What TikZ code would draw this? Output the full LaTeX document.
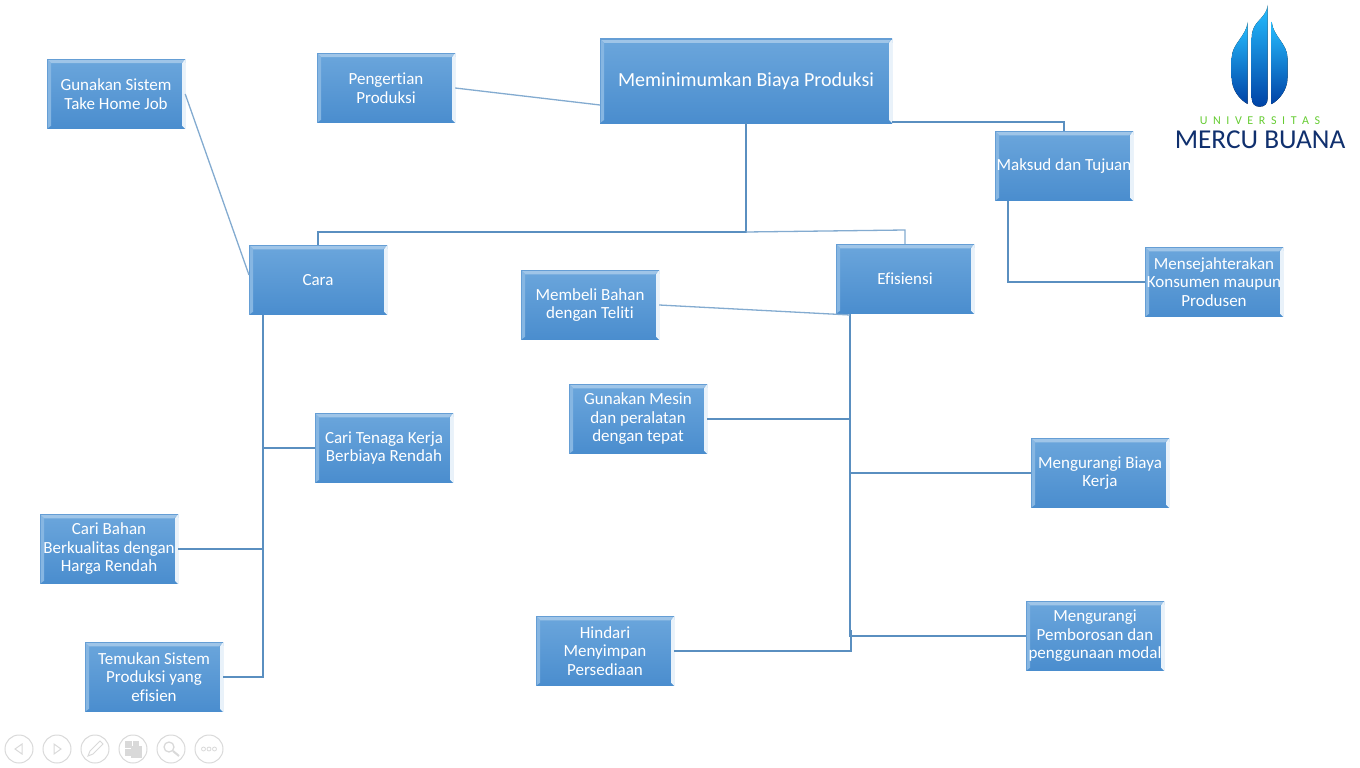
\documentclass[tikz,border=0pt]{standalone}
\usepackage{fontspec}
\setmainfont[Ligatures=NoCommon]{Carlito}
\usepackage{xcolor}
\usetikzlibrary{positioning,calc}
\definecolor{boxtop}{HTML}{6BA6DC}
\definecolor{boxbot}{HTML}{4A8DCE}
\definecolor{linkblue}{HTML}{5A8FC0}
\definecolor{navgrey}{HTML}{D9D9D9}
\definecolor{mbnavy}{HTML}{10306E}
\tikzset{
  bluebox/.style={rectangle, inner sep=0pt, minimum width=138pt, minimum height=69.5pt, align=center,
    text=white, font=\fontsize{17}{18.5}\selectfont, top color=boxtop, bottom color=boxbot,
    path picture={
      \coordinate (sw) at (path picture bounding box.south west);
      \coordinate (ne) at (path picture bounding box.north east);
      \fill[white!35!boxtop] (sw |- ne) -- (ne) -- ($(ne)+(-4pt,-4pt)$) -- ($(sw |- ne)+(4pt,-4pt)$) -- cycle;
      \fill[white!18!boxtop] (sw |- ne) -- (sw) -- ($(sw)+(4pt,3pt)$) -- ($(sw |- ne)+(4pt,-4pt)$) -- cycle;
      \fill[white!85!boxtop] (ne) -- (ne |- sw) -- ($(ne |- sw)+(-3pt,3pt)$) -- ($(ne)+(-3pt,-4pt)$) -- cycle;
      \draw[boxbot!85!white, line width=1.2pt] (sw |- ne) -- (ne);
      \draw[boxbot!85!white, line width=1.2pt] (sw |- ne) -- (sw);
      \draw[boxbot!70!white, line width=1pt] (ne) -- ($(ne)+(0,-4pt)$);
    }},
  link/.style={draw=linkblue, line width=1.3pt},
  softlink/.style={draw=linkblue!75!white, line width=1.3pt},
  navicon/.style={draw=navgrey, line width=1pt},
  petal/.style={top color=cyan!70!blue!85!white, middle color=cyan!45!blue!85!black, bottom color=blue!60!cyan!65!black, draw=none}
}
\begin{document}
\begin{tikzpicture}[x=1pt,y=-1pt]
  \useasboundingbox (0,0) rectangle (1360,768);
  \foreach \x/\y/\id/\name in {
      116/94/gunakan/{Gunakan Sistem\\Take Home Job},
      386/88/pengertian/{Pengertian\\Produksi},
      1064/166/maksud/{Maksud dan Tujuan},
      1214/282/sejahtera/{Mensejahterakan\\Konsumen maupun\\Produsen},
      318/280/cara/{Cara},
      905/279/efisiensi/{Efisiensi},
      590/305/membeli/{Membeli Bahan\\dengan Teliti},
      638/419/mesin/{Gunakan Mesin\\dan peralatan\\dengan tepat},
      384/448/tenaga/{Cari Tenaga Kerja\\Berbiaya Rendah},
      1100/473/biayakerja/{Mengurangi Biaya\\Kerja},
      109/549/bahan/{Cari Bahan\\Berkualitas dengan\\Harga Rendah},
      605/651/hindari/{Hindari\\Menyimpan\\Persediaan},
      1095/636/pemborosan/{Mengurangi\\Pemborosan dan\\penggunaan modal},
      154/677/temukan/{Temukan Sistem\\Produksi yang\\efisien}}{
    \node[bluebox] (\id) at (\x,\y) {\name};
  }
  \node[bluebox, minimum width=292pt, minimum height=84pt, font=\fontsize{20}{23}\selectfont] (biaya) at (746,81) {Meminimumkan Biaya Produksi};

  \coordinate (bend) at (746,232);
  \coordinate (caratrunk) at (263,315);
  \coordinate (efitrunk) at (850,314);
  \coordinate (maksudstub) at (1008,201);
  \coordinate (biayaleft) at (600,105);
  \coordinate (biayaright) at (892,122);
  \coordinate (caraleft) at (249,275);

  \draw[softlink] (pengertian.east) -- (biayaleft);
  \draw[softlink] (gunakan.east) -- (caraleft);
  \draw[link] (biaya.south) -- (bend) -- (bend -| cara.north) -- (cara.north);
  \draw[softlink] (bend) -- ($(bend -| efisiensi.north)+(0,-2)$) -- (efisiensi.north);
  \draw[link] (biayaright) -- (biayaright -| maksud.north) -- (maksud.north);
  \draw[link] (maksudstub) -- (maksudstub |- sejahtera.west) -- (sejahtera.west);

  \draw[link] (caratrunk) -- (caratrunk |- temukan.east) -- (temukan.east);
  \draw[link] (tenaga.west) -- (tenaga.west -| caratrunk);
  \draw[link] (bahan.east) -- (bahan.east -| caratrunk);

  \draw[link] (efitrunk) -- (efitrunk |- pemborosan.west) -- (pemborosan.west);
  \draw[softlink] (membeli.east) -- ($(efitrunk)+(0,1)$);
  \draw[link] (mesin.east) -- (mesin.east -| efitrunk);
  \draw[link] (biayakerja.west) -- (biayakerja.west -| efitrunk);
  \draw[link] (hindari.east) -- ($(hindari.east -| efitrunk)+(1,0)$) -- ($(efitrunk |- pemborosan.west)+(1,-6)$);

  % logo
  \fill[petal] (1247.7,22) .. controls (1246.5,36) and (1231.7,44) .. (1231.7,58) -- (1231.7,78)
    .. controls (1231.7,90) and (1240,100) .. (1247.7,104) -- cycle;
  \fill[petal] (1271.7,22) .. controls (1273,36) and (1287.5,44) .. (1287.5,58) -- (1287.5,78)
    .. controls (1287.5,90) and (1279,100) .. (1271.7,104) -- cycle;
  \fill[petal] (1267.7,5) .. controls (1266,20) and (1251.7,20) .. (1251.7,38) -- (1251.7,98)
    .. controls (1251.7,104) and (1255,106.7) .. (1259.7,106.7)
    .. controls (1264.5,106.7) and (1267.7,104) .. (1267.7,98) -- cycle;
  \node[inner sep=0pt, text=green!50!olive!80!white, font=\fontsize{12}{14}\selectfont] (univ) at (1260,120.5) {U\hskip 5.6pt N\hskip 5.6pt I\hskip 5.6pt V\hskip 5.6pt E\hskip 5.6pt R\hskip 5.6pt S\hskip 5.6pt I\hskip 5.6pt T\hskip 5.6pt A\hskip 5.6pt S};
  \node[inner sep=0pt, text=mbnavy, font=\fontsize{27.3}{30}\selectfont] (mercu) at (1260,139.5) {MERCU BUANA};

  % slide show controls
  \foreach \x in {19,57,95,133,171,209}{\draw[navicon] (\x,749) circle[radius=14];}
  \draw[navicon] (22,744) -- (15,749) -- (22,754) -- cycle;
  \draw[navicon] (54,744) -- (61,749) -- (54,754) -- cycle;
  \draw[navicon] (88,756) -- (90,751) -- (100,741) -- (103,744) -- (93,754) -- cycle;
  \draw[navicon, fill=navgrey] (125,741) rectangle (131,747) (133,741) rectangle (138,746) (125,749) rectangle (131,755);
  \draw[navicon, fill=navgrey] (131,746) rectangle (141,757);
  \draw[navicon, line width=1.3pt] (169,747) circle[radius=5];
  \draw[navicon, line width=2pt] (173,751) -- (179,756);
  \foreach \x in {203.5,209,214.5}{\draw[navicon, line width=0.8pt] (\x,749) circle[radius=2];}
\end{tikzpicture}
\end{document}
